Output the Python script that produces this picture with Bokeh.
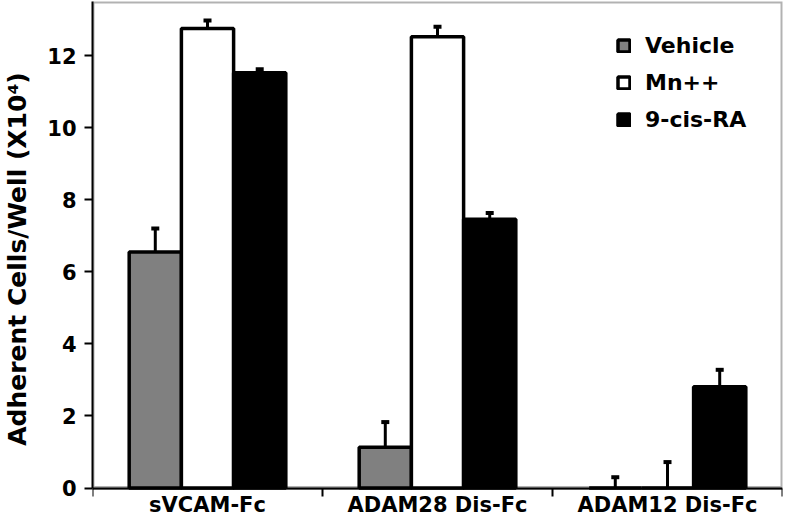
from bokeh.plotting import figure
from bokeh.models import (ColumnDataSource, Whisker, TeeHead, FixedTicker,
                          Legend, LegendItem, Range1d, BoxAnnotation)
from bokeh.embed import file_html
from bokeh.resources import INLINE

# ---- data ----
categories = ["sVCAM-Fc", "ADAM28 Dis-Fc", "ADAM12 Dis-Fc"]
series = ["Vehicle", "Mn++", "9-cis-RA"]
vehicle = [6.55, 1.13, 0.0]
vehicle_err = [0.65, 0.70, 0.30]
mn = [12.75, 12.52, 0.0]
mn_err = [0.22, 0.28, 0.72]
cis = [11.52, 7.46, 2.81]
cis_err = [0.10, 0.17, 0.47]
y_ticks = [0, 2, 4, 6, 8, 10, 12]
Y_MAX = 13.5

FONT = "DejaVu Sans"
BAR_W = 0.227
offsets = [-BAR_W, 0.0, BAR_W]
fills = ["#808080", "#ffffff", "#000000"]

# the frame reaches the bottom of the canvas; the x axis sits at y=0 inside it
p = figure(width=784, height=516, output_backend="svg", toolbar_location=None,
           x_range=Range1d(0, 3), y_range=Range1d(-0.79, Y_MAX),
           min_border_left=82, min_border_right=2, min_border_top=1,
           min_border_bottom=0)
p.grid.visible = False
p.outline_line_color = None
p.background_fill_color = "white"
p.border_fill_color = "white"

# plot box (from 0 to the top of the range)
p.add_layout(BoxAnnotation(left=0, right=3, bottom=0, top=Y_MAX, fill_alpha=0,
                           line_color="black", line_width=4, level="underlay"))

renderers = []
for vals, errs, off, fc in zip([vehicle, mn, cis], [vehicle_err, mn_err, cis_err], offsets, fills):
    xs = [i + 0.5 + off for i in range(len(categories))]
    src = ColumnDataSource(dict(x=xs, top=vals, lower=vals,
                                upper=[v + e for v, e in zip(vals, errs)]))
    r = p.vbar(x="x", top="top", bottom=0, width=BAR_W, source=src, fill_color=fc,
               line_color="black", line_width=3.5)
    renderers.append(r)
    w = Whisker(base="x", lower="lower", upper="upper", source=src,
                line_color="black", line_width=3,
                upper_head=TeeHead(size=8, line_width=4, line_color="black"),
                lower_head=None, level="overlay")
    p.add_layout(w)

# y axis
ya = p.yaxis[0]
ya.ticker = FixedTicker(ticks=y_ticks)
ya.bounds = (0, Y_MAX)
ya.minor_tick_line_color = None
ya.major_tick_out = 8
ya.major_tick_in = 0
ya.major_tick_line_width = 2
ya.axis_line_width = 2
ya.major_label_text_font = FONT
ya.major_label_text_font_style = "bold"
ya.major_label_text_font_size = "21px"
ya.major_label_text_color = "black"
ya.major_label_standoff = 8
ya.axis_label = "Adherent Cells/Well (X10⁴)"
ya.axis_label_text_font = FONT
ya.axis_label_text_font_style = "bold"
ya.axis_label_text_font_size = "25px"
ya.axis_label_text_color = "black"
ya.axis_label_standoff = 12

# x axis at y=0: ticks at category boundaries, names centred
xa = p.xaxis[0]
xa.fixed_location = 0
centers = [i + 0.5 for i in range(len(categories))]
bounds = [float(i) for i in range(len(categories) + 1)]
xa.ticker = FixedTicker(ticks=centers, minor_ticks=bounds)
xa.major_label_overrides = {c: lab for c, lab in zip(centers, categories)}
xa.axis_label = None
xa.major_tick_out = 0
xa.major_tick_in = 0
xa.minor_tick_out = 8
xa.minor_tick_in = 0
xa.minor_tick_line_width = 2
xa.minor_tick_line_color = "black"
xa.axis_line_width = 2
xa.major_label_text_font = FONT
xa.major_label_text_font_style = "bold"
xa.major_label_text_font_size = "21px"
xa.major_label_text_color = "black"
xa.major_label_standoff = -3

legend = Legend(items=[LegendItem(label=s, renderers=[r]) for s, r in zip(series, renderers)],
                location=(524, 384), orientation="vertical",
                border_line_color=None, background_fill_alpha=0,
                glyph_width=15, glyph_height=15, label_standoff=14,
                label_text_font=FONT, label_text_font_style="bold",
                label_text_font_size="22px", label_text_color="black",
                spacing=12, padding=0, margin=0)
p.add_layout(legend)

open("out.html", "w").write(file_html(p, INLINE))
